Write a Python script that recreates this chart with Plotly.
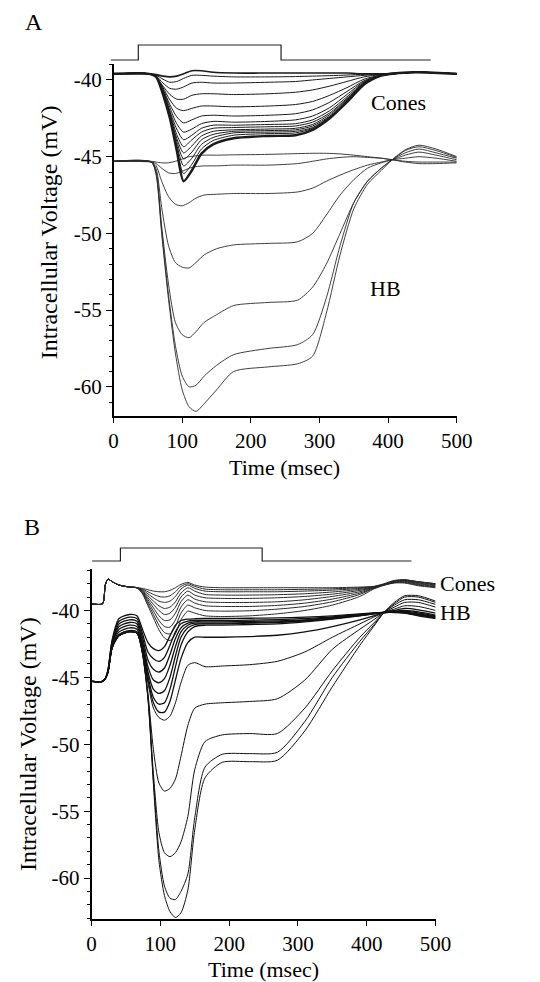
import plotly.graph_objects as go

# ---------------- Panel A data ----------------
t_a_cones = [0, 52, 62, 72, 82, 92, 102, 114, 128, 145, 175, 225, 265, 290, 315, 340, 365, 390, 440, 500]
a_cones_mv = [
    [-39.6,-39.6,-39.65,-39.75,-39.8,-39.75,-39.6,-39.4,-39.4,-39.5,-39.55,-39.55,-39.55,-39.55,-39.55,-39.55,-39.6,-39.6,-39.5,-39.6],
    [-39.6,-39.6,-39.7,-39.95,-40.15,-40.1,-39.9,-39.7,-39.7,-39.75,-39.8,-39.8,-39.78,-39.75,-39.72,-39.68,-39.63,-39.6,-39.5,-39.6],
    [-39.6,-39.6,-39.75,-40.2,-40.55,-40.6,-40.45,-40.2,-40.15,-40.2,-40.2,-40.15,-40.1,-40.0,-39.9,-39.8,-39.7,-39.62,-39.5,-39.6],
    [-39.6,-39.6,-39.8,-40.4,-40.95,-41.25,-41.25,-41.0,-40.9,-40.9,-40.95,-40.9,-40.8,-40.65,-40.4,-40.1,-39.8,-39.65,-39.5,-39.6],
    [-39.6,-39.6,-39.8,-40.5,-41.3,-41.85,-42.0,-41.85,-41.7,-41.7,-41.75,-41.7,-41.6,-41.4,-41.0,-40.5,-39.95,-39.68,-39.5,-39.6],
    [-39.6,-39.6,-39.8,-40.6,-41.6,-42.4,-42.8,-42.6,-42.35,-42.3,-42.35,-42.3,-42.2,-41.95,-41.45,-40.75,-40.05,-39.7,-39.5,-39.6],
    [-39.6,-39.6,-39.8,-40.65,-41.8,-42.85,-43.4,-43.2,-42.85,-42.7,-42.75,-42.7,-42.6,-42.35,-41.8,-40.95,-40.1,-39.7,-39.5,-39.6],
    [-39.6,-39.6,-39.8,-40.7,-42.0,-43.2,-43.9,-43.6,-43.15,-42.95,-42.95,-42.9,-42.85,-42.6,-42.0,-41.1,-40.15,-39.72,-39.5,-39.6],
    [-39.6,-39.6,-39.8,-40.75,-42.1,-43.55,-44.35,-43.9,-43.4,-43.15,-43.1,-43.05,-43.0,-42.75,-42.15,-41.2,-40.2,-39.72,-39.5,-39.6],
    [-39.6,-39.6,-39.8,-40.8,-42.2,-43.8,-44.75,-44.3,-43.65,-43.35,-43.25,-43.2,-43.15,-42.9,-42.25,-41.25,-40.2,-39.72,-39.5,-39.6],
    [-39.6,-39.6,-39.8,-40.85,-42.3,-44.0,-45.15,-44.7,-43.9,-43.55,-43.35,-43.3,-43.25,-43.0,-42.35,-41.3,-40.25,-39.72,-39.5,-39.6],
    [-39.6,-39.6,-39.8,-40.9,-42.4,-44.2,-45.6,-45.1,-44.2,-43.75,-43.45,-43.4,-43.35,-43.1,-42.4,-41.35,-40.25,-39.72,-39.5,-39.6],
    [-39.6,-39.6,-39.8,-40.9,-42.45,-44.4,-46.1,-45.5,-44.5,-43.95,-43.6,-43.5,-43.45,-43.15,-42.45,-41.4,-40.3,-39.72,-39.5,-39.6],
    [-39.6,-39.6,-39.8,-40.95,-42.5,-44.6,-46.6,-45.9,-44.8,-44.2,-43.8,-43.65,-43.6,-43.25,-42.5,-41.45,-40.3,-39.72,-39.5,-39.6],
]

t_a_hb = [0, 55, 62, 70, 80, 90, 100, 110, 120, 132, 150, 175, 225, 268, 290, 310, 330, 350, 370, 390, 406, 425, 445, 470, 500]
a_hb_mv = [
    [-45.3,-45.3,-45.35,-45.4,-45.4,-45.3,-45.15,-45.0,-44.95,-44.9,-44.9,-44.88,-44.85,-44.8,-44.78,-44.78,-44.82,-44.9,-45.0,-45.1,-45.2,-45.35,-45.45,-45.45,-45.4],
    [-45.3,-45.35,-45.45,-45.75,-46.05,-46.1,-45.95,-45.75,-45.65,-45.6,-45.6,-45.55,-45.55,-45.45,-45.3,-45.15,-45.05,-45.0,-45.05,-45.1,-45.2,-45.3,-45.35,-45.35,-45.35],
    [-45.3,-45.35,-45.6,-46.6,-47.6,-48.1,-48.2,-48.0,-47.7,-47.5,-47.45,-47.4,-47.4,-47.3,-47.05,-46.6,-46.2,-45.85,-45.55,-45.35,-45.2,-45.1,-45.0,-45.1,-45.3],
    [-45.3,-45.35,-45.8,-48.3,-50.8,-51.9,-52.2,-52.25,-51.9,-51.4,-51.0,-50.75,-50.65,-50.55,-50.0,-48.8,-47.5,-46.5,-45.75,-45.4,-45.2,-44.9,-44.7,-44.9,-45.2],
    [-45.3,-45.35,-46.0,-49.5,-53.3,-55.8,-56.6,-56.8,-56.4,-55.8,-55.3,-54.7,-54.5,-54.35,-53.5,-52.0,-50.0,-48.0,-46.6,-45.75,-45.2,-44.75,-44.5,-44.75,-45.1],
    [-45.3,-45.35,-46.1,-49.8,-54.0,-57.3,-59.3,-60.0,-59.9,-59.3,-58.6,-57.9,-57.5,-57.25,-56.6,-54.2,-50.8,-48.0,-46.6,-45.75,-45.2,-44.6,-44.35,-44.6,-45.05],
    [-45.3,-45.35,-46.2,-50.0,-54.3,-57.8,-60.2,-61.3,-61.6,-61.1,-60.2,-59.0,-58.7,-58.5,-58.0,-55.2,-51.4,-48.4,-46.8,-45.9,-45.2,-44.55,-44.25,-44.5,-45.0],
]

# ---------------- Panel B data ----------------
t_b = [0, 16, 20, 24, 30, 40, 55, 66, 74, 82, 90, 98, 106, 114, 122, 130, 140, 150, 165, 190, 230, 270, 310, 350, 390, 410, 425, 440, 455, 475, 500]
b_cones_mv = [
    [-39.5,-39.5,-38.1,-37.65,-37.85,-38.1,-38.25,-38.3,-38.35,-38.45,-38.55,-38.6,-38.6,-38.5,-38.3,-38.05,-37.9,-38.1,-38.25,-38.3,-38.3,-38.3,-38.3,-38.3,-38.25,-38.2,-38.0,-37.75,-37.7,-37.85,-38.0],
    [-39.5,-39.5,-38.1,-37.65,-37.85,-38.1,-38.25,-38.3,-38.4,-38.6,-38.8,-38.95,-39.0,-38.9,-38.6,-38.2,-38.0,-38.2,-38.4,-38.45,-38.45,-38.45,-38.42,-38.38,-38.3,-38.22,-38.05,-37.8,-37.72,-37.85,-38.0],
    [-39.5,-39.5,-38.1,-37.65,-37.85,-38.1,-38.25,-38.3,-38.45,-38.75,-39.05,-39.3,-39.4,-39.3,-38.95,-38.4,-38.1,-38.35,-38.55,-38.6,-38.6,-38.6,-38.55,-38.48,-38.35,-38.24,-38.05,-37.8,-37.72,-37.87,-38.02],
    [-39.5,-39.5,-38.1,-37.65,-37.85,-38.1,-38.25,-38.3,-38.5,-38.9,-39.3,-39.65,-39.85,-39.75,-39.35,-38.7,-38.3,-38.55,-38.8,-38.85,-38.85,-38.82,-38.75,-38.62,-38.42,-38.26,-38.05,-37.82,-37.75,-37.9,-38.05],
    [-39.5,-39.5,-38.1,-37.65,-37.85,-38.1,-38.25,-38.3,-38.55,-39.05,-39.55,-40.0,-40.3,-40.2,-39.75,-39.0,-38.55,-38.85,-39.05,-39.1,-39.1,-39.05,-38.95,-38.78,-38.5,-38.28,-38.06,-37.85,-37.78,-37.95,-38.1],
    [-39.5,-39.5,-38.1,-37.65,-37.85,-38.1,-38.25,-38.3,-38.6,-39.2,-39.8,-40.4,-40.75,-40.7,-40.2,-39.35,-38.85,-39.15,-39.35,-39.4,-39.4,-39.35,-39.2,-38.95,-38.6,-38.3,-38.07,-37.88,-37.82,-38.0,-38.15],
    [-39.5,-39.5,-38.1,-37.65,-37.85,-38.1,-38.25,-38.3,-38.65,-39.35,-40.05,-40.75,-41.2,-41.25,-40.7,-39.75,-39.2,-39.45,-39.65,-39.7,-39.7,-39.62,-39.45,-39.15,-38.7,-38.32,-38.08,-37.9,-37.86,-38.05,-38.2],
    [-39.5,-39.5,-38.1,-37.65,-37.85,-38.1,-38.25,-38.3,-38.7,-39.5,-40.3,-41.1,-41.65,-41.75,-41.2,-40.2,-39.6,-39.8,-40.0,-40.05,-40.02,-39.9,-39.7,-39.35,-38.8,-38.35,-38.1,-37.92,-37.9,-38.1,-38.25],
    [-39.5,-39.5,-38.1,-37.65,-37.85,-38.1,-38.25,-38.3,-38.75,-39.65,-40.55,-41.45,-42.05,-42.25,-41.75,-40.7,-40.05,-40.2,-40.4,-40.45,-40.4,-40.25,-40.0,-39.6,-38.95,-38.4,-38.12,-37.95,-37.95,-38.15,-38.3],
]
b_hb_mv = [
    [-45.3,-45.3,-45.1,-44.4,-42.2,-40.6,-40.3,-40.4,-41.4,-42.4,-42.85,-43.0,-42.7,-41.9,-41.1,-40.75,-40.65,-40.62,-40.6,-40.6,-40.58,-40.55,-40.5,-40.4,-40.25,-40.18,-40.15,-40.15,-40.2,-40.4,-40.6],
    [-45.3,-45.3,-45.1,-44.5,-42.3,-40.8,-40.5,-40.6,-41.7,-43.1,-43.6,-43.8,-43.5,-42.6,-41.6,-41.0,-40.8,-40.75,-40.75,-40.75,-40.72,-40.68,-40.6,-40.48,-40.3,-40.2,-40.15,-40.13,-40.18,-40.35,-40.55],
    [-45.3,-45.3,-45.1,-44.5,-42.4,-41.0,-40.7,-40.8,-42.0,-43.7,-44.4,-44.6,-44.3,-43.3,-42.1,-41.3,-40.95,-40.85,-40.85,-40.85,-40.82,-40.78,-40.7,-40.52,-40.33,-40.22,-40.15,-40.12,-40.15,-40.3,-40.5],
    [-45.3,-45.3,-45.1,-44.5,-42.5,-41.2,-40.9,-41.0,-42.3,-44.2,-45.2,-45.4,-45.1,-44.1,-42.7,-41.6,-41.1,-40.95,-40.95,-40.95,-40.9,-40.85,-40.75,-40.55,-40.35,-40.22,-40.15,-40.1,-40.1,-40.25,-40.45],
    [-45.3,-45.3,-45.1,-44.6,-42.6,-41.4,-41.1,-41.2,-42.5,-44.6,-45.9,-46.2,-46.0,-45.0,-43.4,-42.0,-41.3,-41.05,-41.0,-41.0,-40.95,-40.9,-40.8,-40.6,-40.38,-40.25,-40.15,-40.08,-40.05,-40.18,-40.4],
    [-45.3,-45.3,-45.1,-44.6,-42.7,-41.6,-41.3,-41.4,-42.7,-44.9,-46.5,-47.0,-46.9,-45.9,-44.2,-42.6,-41.6,-41.2,-41.1,-41.1,-41.05,-41.0,-40.85,-40.65,-40.4,-40.25,-40.15,-40.05,-40.0,-40.1,-40.35],
    [-45.3,-45.3,-45.1,-44.6,-42.8,-41.8,-41.5,-41.6,-42.9,-45.2,-46.9,-47.6,-47.6,-46.8,-45.2,-43.6,-42.4,-42.0,-42.0,-42.0,-41.95,-41.85,-41.6,-41.2,-40.7,-40.4,-40.15,-40.0,-39.85,-39.95,-40.2],
    [-45.3,-45.3,-45.1,-44.6,-42.8,-41.8,-41.5,-41.6,-42.9,-45.4,-47.3,-48.0,-48.2,-47.9,-46.9,-45.4,-44.1,-43.9,-44.2,-44.15,-44.05,-43.8,-43.1,-42.0,-41.0,-40.5,-40.15,-39.9,-39.65,-39.7,-40.0],
    [-45.3,-45.3,-45.1,-44.6,-42.8,-41.9,-41.6,-41.7,-43.1,-46.2,-50.4,-52.9,-53.5,-53.3,-52.6,-50.9,-48.6,-47.3,-47.0,-46.9,-46.8,-46.6,-45.2,-42.9,-41.4,-40.7,-40.15,-39.75,-39.4,-39.4,-39.75],
    [-45.3,-45.3,-45.1,-44.6,-42.8,-41.9,-41.6,-41.7,-43.2,-46.4,-52.2,-56.6,-58.1,-58.4,-58.1,-57.3,-55.4,-51.9,-49.8,-49.3,-49.2,-49.2,-47.3,-44.5,-42.0,-40.95,-40.15,-39.6,-39.2,-39.2,-39.55],
    [-45.3,-45.3,-45.1,-44.6,-42.8,-41.9,-41.6,-41.7,-43.2,-46.5,-52.7,-58.0,-60.6,-61.5,-61.6,-61.0,-59.7,-55.5,-51.7,-50.75,-50.7,-50.6,-48.3,-45.0,-42.3,-41.1,-40.15,-39.5,-39.0,-39.0,-39.4],
    [-45.3,-45.3,-45.1,-44.6,-42.8,-41.9,-41.6,-41.7,-43.2,-46.6,-53.0,-58.7,-61.3,-62.5,-62.95,-62.6,-60.9,-56.4,-52.5,-51.35,-51.3,-51.2,-49.0,-45.7,-42.6,-41.2,-40.15,-39.4,-38.9,-38.9,-39.3],
]

# stimulus timing (light step)
stim_a_t = [-4, 36, 36, 244, 244, 462]
stim_b_t = [1, 42, 42, 248, 248, 465]
stim_level = [0, 0, 1, 1, 0, 0]

y_ticks = [-40, -45, -50, -55, -60]
x_ticks = [0, 100, 200, 300, 400, 500]

SERIF = "Liberation Serif, Times New Roman, serif"
W, H = 540, 982

fig = go.Figure()

def add_lines(ts, rows, xa, ya, color, width, widths=None):
    for i, row in enumerate(rows):
        w = widths[i] if widths else width
        fig.add_trace(go.Scatter(x=ts, y=row, mode="lines", xaxis=xa, yaxis=ya,
                                 line=dict(color=color, width=w, shape="spline", smoothing=0.7),
                                 showlegend=False, hoverinfo="skip"))

# Panel A
add_lines(t_a_hb, a_hb_mv, "x", "y", "#2a2a2a", 0.9)
cw = [1.6] + [1.0] * (len(a_cones_mv) - 2) + [2.4]
add_lines(t_a_cones, a_cones_mv, "x", "y", "#1a1a1a", 1.0, cw)
# Panel B
add_lines(t_b, b_cones_mv, "x2", "y2", "#2a2a2a", 1.0)
bw = [1.3] * 7 + [1.0] * 5
add_lines(t_b, b_hb_mv, "x2", "y2", "#111111", 1.0, bw)
# Stimulus traces
fig.add_trace(go.Scatter(x=stim_a_t, y=stim_level, mode="lines", xaxis="x3", yaxis="y3",
                         line=dict(color="#222", width=1.2), showlegend=False, hoverinfo="skip"))
fig.add_trace(go.Scatter(x=stim_b_t, y=stim_level, mode="lines", xaxis="x4", yaxis="y4",
                         line=dict(color="#222", width=1.2), showlegend=False, hoverinfo="skip"))

def px(x):
    return x / W

def py(y):
    return 1 - y / H

tickfont = dict(family=SERIF, size=21, color="black")
common_x = dict(showgrid=False, zeroline=False, showline=True, linecolor="black", linewidth=1.5,
                ticks="outside", ticklen=5, tickcolor="black", tickwidth=1.2,
                tickvals=x_ticks, ticktext=[str(v) for v in x_ticks], tickfont=tickfont)
common_y = dict(showgrid=False, zeroline=False, showline=True, linecolor="black", linewidth=1.5,
                ticks="outside", ticklen=6, tickcolor="black", tickwidth=1.2,
                tickvals=y_ticks, ticktext=[str(v) for v in y_ticks], tickfont=tickfont,
                minor=dict(ticks="outside", ticklen=3, dtick=1, tickcolor="black", tickwidth=1))

hidden = dict(visible=False, showgrid=False, zeroline=False, fixedrange=True)

fig.update_layout(
    width=W, height=H, margin=dict(l=0, r=0, t=0, b=0),
    paper_bgcolor="white", plot_bgcolor="rgba(0,0,0,0)",
    xaxis=dict(domain=[px(113), px(470)], range=[0, 500], anchor="y", **common_x),
    yaxis=dict(domain=[py(416), py(64)], range=[-61.9, -38.96], anchor="x", **common_y),
    xaxis2=dict(domain=[px(90), px(448)], range=[0, 500], anchor="y2", **common_x),
    yaxis2=dict(domain=[py(919), py(569)], range=[-63.06, -36.9], anchor="x2", **common_y),
    xaxis3=dict(domain=[px(105), px(470)], range=[-11.2, 500], anchor="y3", **hidden),
    yaxis3=dict(domain=[py(66), py(40)], range=[-0.4, 1.333], anchor="x3", **hidden),
    xaxis4=dict(domain=[px(85), px(448)], range=[-7, 500], anchor="y4", **hidden),
    yaxis4=dict(domain=[py(566), py(540)], range=[-0.385, 1.615], anchor="x4", **hidden),
)

def label(text, x, y, size=22, angle=0, xanchor="center"):
    fig.add_annotation(text=text, x=px(x), y=py(y), xref="paper", yref="paper",
                       showarrow=False, textangle=angle, xanchor=xanchor, yanchor="middle",
                       font=dict(family=SERIF, size=size, color="black"))

label("A", 30, 22, 24)
label("B", 28, 527, 24)
label("Time (msec)", 291, 467, 22)
label("Time (msec)", 269, 969, 22)
label("Intracellular Voltage (mV)", 46, 232, 24, angle=-90)
label("Intracellular Voltage (mV)", 24, 744, 24, angle=-90)
label("Cones", 409, 103, 22)
label("HB", 396, 289, 22)
label("Cones", 451, 583, 22, xanchor="left")
label("HB", 451, 612, 22, xanchor="left")

fig.write_html("out.html")
